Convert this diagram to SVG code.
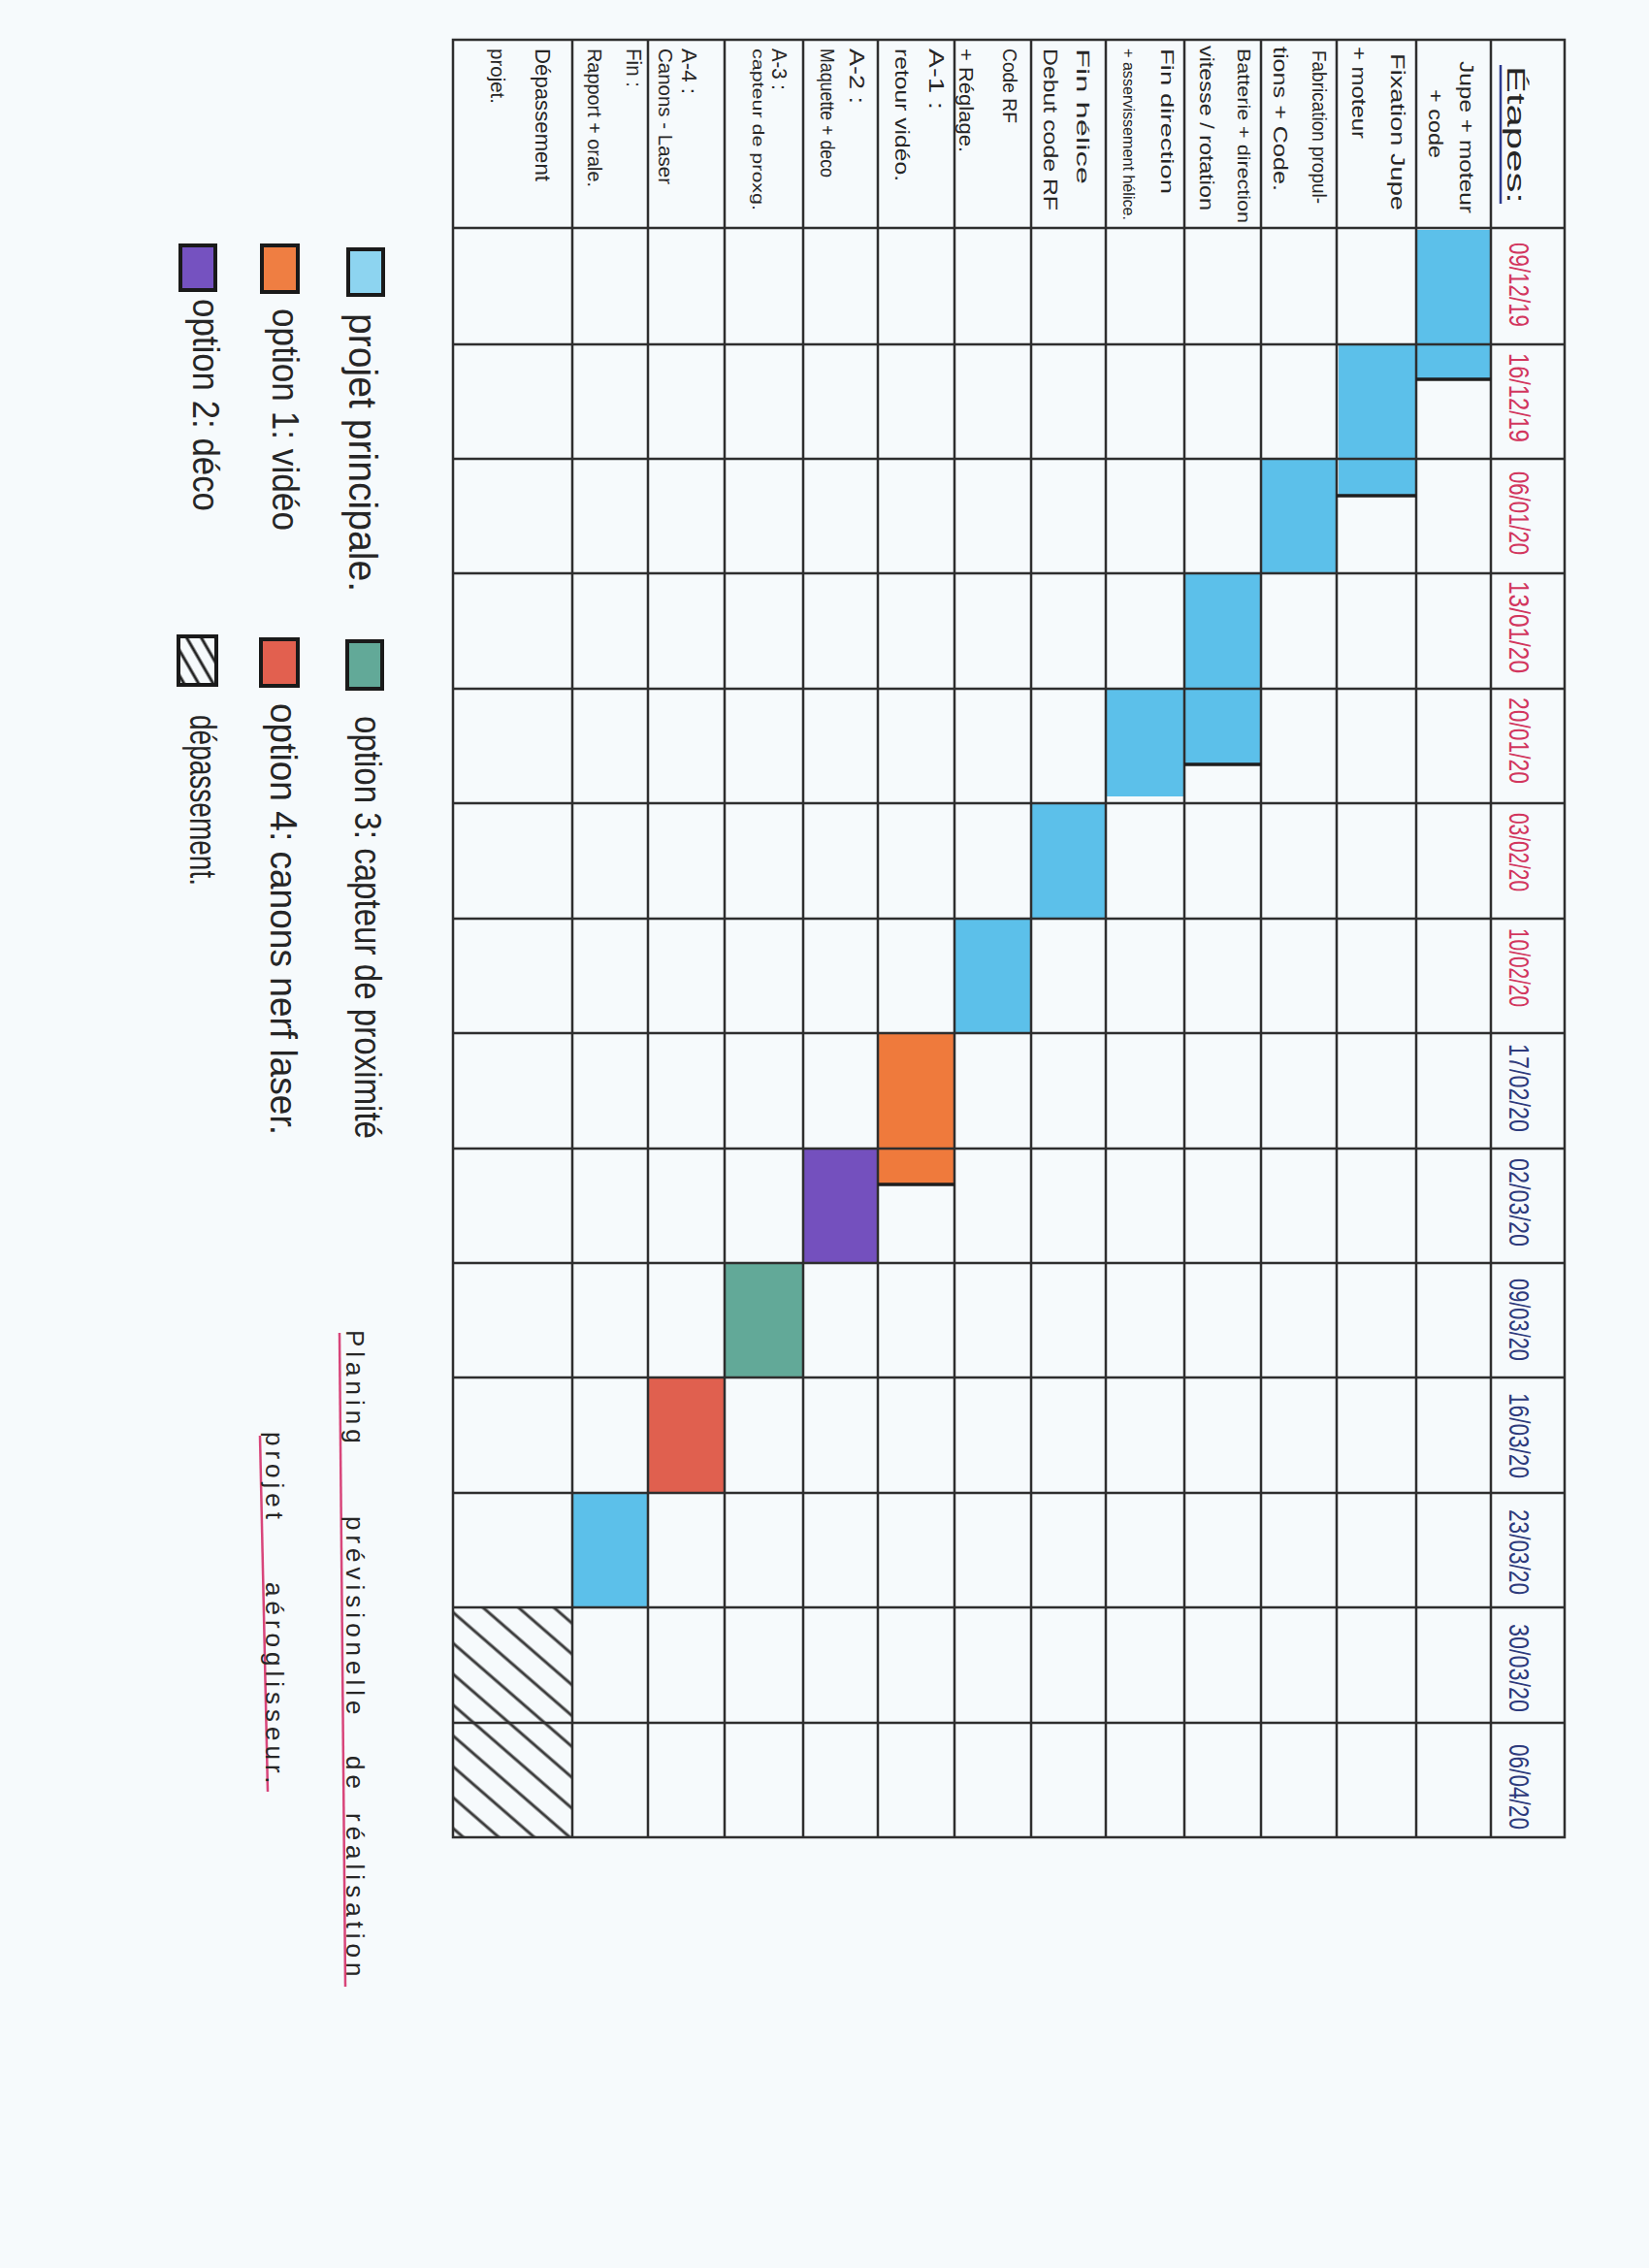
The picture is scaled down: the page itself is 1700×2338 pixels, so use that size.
<svg xmlns="http://www.w3.org/2000/svg" width="1700" height="2338" viewBox="0 0 1700 2338">
<defs>
<style>
.g{stroke:#2e2e2e;stroke-width:2.5;fill:none}
.t{font-family:"Liberation Sans","DejaVu Sans",sans-serif;fill:#262626}
.d1{font-family:"Liberation Sans","DejaVu Sans",sans-serif;fill:#d2365e;font-size:29px}
.d2{font-family:"Liberation Sans","DejaVu Sans",sans-serif;fill:#2d3a7c;font-size:29px}
.edge{stroke:#1e1e1e;stroke-width:3.5}
.lg{stroke:#1a1a1a;stroke-width:4}
.blue{fill:#5cc0ea}
.orange{fill:#ef7a3c}
.purple{fill:#7450be}
.teal{fill:#62a998}
.red{fill:#e0604f}
.ul{stroke:#d8457a;stroke-width:2.5}
</style>
<pattern id="hatch" width="24" height="24" patternUnits="userSpaceOnUse" patternTransform="rotate(41)">
<line x1="0" y1="12" x2="24" y2="12" stroke="#3a3a3a" stroke-width="3"/>
</pattern>
<pattern id="hatch2" width="13" height="13" patternUnits="userSpaceOnUse" patternTransform="rotate(60)">
<line x1="0" y1="6" x2="13" y2="6" stroke="#222" stroke-width="3"/>
</pattern>
</defs>
<rect width="1700" height="2338" fill="#f6fafc"/>

<g id="bars">
<rect class="blue" x="1461" y="237" width="75" height="153"/>
<rect class="blue" x="1380" y="356" width="79" height="154"/>
<rect class="blue" x="1301" y="474" width="76" height="116"/>
<rect class="blue" x="1222" y="592" width="77" height="195"/>
<rect class="blue" x="1141" y="711" width="79" height="110"/>
<rect class="blue" x="1064" y="829" width="75" height="117"/>
<rect class="blue" x="985" y="948" width="77" height="116"/>
<rect class="orange" x="906" y="1066" width="77" height="154"/>
<rect class="purple" x="829" y="1185" width="75" height="116"/>
<rect class="teal" x="748" y="1303" width="79" height="116"/>
<rect class="red" x="669" y="1421" width="77" height="117"/>
<rect class="blue" x="591" y="1540" width="76" height="116"/>
<rect fill="url(#hatch)" x="468" y="1658" width="121" height="235"/>
</g>

<g id="grid">
<rect class="g" x="467" y="41" width="1146" height="1853" stroke-width="3"/>
<line class="g" x1="590" y1="41" x2="590" y2="1894"/>
<line class="g" x1="668" y1="41" x2="668" y2="1894"/>
<line class="g" x1="747" y1="41" x2="747" y2="1894"/>
<line class="g" x1="828" y1="41" x2="828" y2="1894"/>
<line class="g" x1="905" y1="41" x2="905" y2="1894"/>
<line class="g" x1="984" y1="41" x2="984" y2="1894"/>
<line class="g" x1="1063" y1="41" x2="1063" y2="1894"/>
<line class="g" x1="1140" y1="41" x2="1140" y2="1894"/>
<line class="g" x1="1221" y1="41" x2="1221" y2="1894"/>
<line class="g" x1="1300" y1="41" x2="1300" y2="1894"/>
<line class="g" x1="1378" y1="41" x2="1378" y2="1894"/>
<line class="g" x1="1460" y1="41" x2="1460" y2="1894"/>
<line class="g" x1="1537" y1="41" x2="1537" y2="1894"/>
<line class="g" x1="467" y1="235" x2="1613" y2="235"/>
<line class="g" x1="467" y1="355" x2="1613" y2="355"/>
<line class="g" x1="467" y1="473" x2="1613" y2="473"/>
<line class="g" x1="467" y1="591" x2="1613" y2="591"/>
<line class="g" x1="467" y1="710" x2="1613" y2="710"/>
<line class="g" x1="467" y1="828" x2="1613" y2="828"/>
<line class="g" x1="467" y1="947" x2="1613" y2="947"/>
<line class="g" x1="467" y1="1065" x2="1613" y2="1065"/>
<line class="g" x1="467" y1="1184" x2="1613" y2="1184"/>
<line class="g" x1="467" y1="1302" x2="1613" y2="1302"/>
<line class="g" x1="467" y1="1420" x2="1613" y2="1420"/>
<line class="g" x1="467" y1="1539" x2="1613" y2="1539"/>
<line class="g" x1="467" y1="1657" x2="1613" y2="1657"/>
<line class="g" x1="467" y1="1776" x2="1613" y2="1776"/>
<line class="edge" x1="1460" y1="391" x2="1537" y2="391"/>
<line class="edge" x1="1378" y1="511" x2="1460" y2="511"/>
<line class="edge" x1="1221" y1="788" x2="1300" y2="788"/>
<line class="edge" x1="905" y1="1221" x2="984" y2="1221"/>
</g>

<g id="header">
<line x1="1547" y1="67" x2="1547" y2="210" stroke="#2b3a8f" stroke-width="2.5"/>
<text class="t" transform="rotate(90)" x="68" y="-1554" font-size="26" fill="#3b3b55" textLength="142" lengthAdjust="spacingAndGlyphs">Étapes:</text>
</g>

<g id="dates">
<text class="d1" transform="rotate(90)" x="250" y="-1556" textLength="87" lengthAdjust="spacingAndGlyphs">09/12/19</text>
<text class="d1" transform="rotate(90)" x="364" y="-1556" textLength="92" lengthAdjust="spacingAndGlyphs">16/12/19</text>
<text class="d1" transform="rotate(90)" x="486" y="-1556" textLength="86" lengthAdjust="spacingAndGlyphs">06/01/20</text>
<text class="d1" transform="rotate(90)" x="599" y="-1556" textLength="95" lengthAdjust="spacingAndGlyphs">13/01/20</text>
<text class="d1" transform="rotate(90)" x="719" y="-1556" textLength="89" lengthAdjust="spacingAndGlyphs">20/01/20</text>
<text class="d1" transform="rotate(90)" x="838" y="-1556" textLength="81" lengthAdjust="spacingAndGlyphs">03/02/20</text>
<text class="d1" transform="rotate(90)" x="957" y="-1556" textLength="81" lengthAdjust="spacingAndGlyphs">10/02/20</text>
<text class="d2" transform="rotate(90)" x="1076" y="-1556" textLength="91" lengthAdjust="spacingAndGlyphs">17/02/20</text>
<text class="d2" transform="rotate(90)" x="1194" y="-1556" textLength="91" lengthAdjust="spacingAndGlyphs">02/03/20</text>
<text class="d2" transform="rotate(90)" x="1318" y="-1556" textLength="85" lengthAdjust="spacingAndGlyphs">09/03/20</text>
<text class="d2" transform="rotate(90)" x="1436" y="-1556" textLength="88" lengthAdjust="spacingAndGlyphs">16/03/20</text>
<text class="d2" transform="rotate(90)" x="1556" y="-1556" textLength="88" lengthAdjust="spacingAndGlyphs">23/03/20</text>
<text class="d2" transform="rotate(90)" x="1674" y="-1556" textLength="91" lengthAdjust="spacingAndGlyphs">30/03/20</text>
<text class="d2" transform="rotate(90)" x="1798" y="-1556" textLength="88" lengthAdjust="spacingAndGlyphs">06/04/20</text>
</g>

<g id="steps">
<text class="t" transform="rotate(90)" x="63" y="-1505" font-size="21" textLength="157" lengthAdjust="spacingAndGlyphs">Jupe + moteur</text>
<text class="t" transform="rotate(90)" x="92" y="-1473" font-size="21" textLength="71" lengthAdjust="spacingAndGlyphs">+ code</text>
<text class="t" transform="rotate(90)" x="55" y="-1434" font-size="21" textLength="162" lengthAdjust="spacingAndGlyphs">Fixation Jupe</text>
<text class="t" transform="rotate(90)" x="48" y="-1394" font-size="20" textLength="95" lengthAdjust="spacingAndGlyphs">+ moteur</text>
<text class="t" transform="rotate(90)" x="52" y="-1353" font-size="20" textLength="158" lengthAdjust="spacingAndGlyphs">Fabrication propul-</text>
<text class="t" transform="rotate(90)" x="48" y="-1313" font-size="21" textLength="149" lengthAdjust="spacingAndGlyphs">tions + Code.</text>
<text class="t" transform="rotate(90)" x="50" y="-1276" font-size="18" textLength="180" lengthAdjust="spacingAndGlyphs">Batterie + direction</text>
<text class="t" transform="rotate(90)" x="47" y="-1237" font-size="20" textLength="170" lengthAdjust="spacingAndGlyphs">vitesse / rotation</text>
<text class="t" transform="rotate(90)" x="50" y="-1197" font-size="18" textLength="150" lengthAdjust="spacingAndGlyphs">Fin direction</text>
<text class="t" transform="rotate(90)" x="50" y="-1158" font-size="16" textLength="177" lengthAdjust="spacingAndGlyphs">+ asservissement hélice.</text>
<text class="t" transform="rotate(90)" x="50" y="-1110" font-size="19" textLength="140" lengthAdjust="spacingAndGlyphs">Fin hélice</text>
<text class="t" transform="rotate(90)" x="50" y="-1076" font-size="20" textLength="167" lengthAdjust="spacingAndGlyphs">Debut code RF</text>
<text class="t" transform="rotate(90)" x="50" y="-1034" font-size="21" textLength="77" lengthAdjust="spacingAndGlyphs">Code RF</text>
<text class="t" transform="rotate(90)" x="50" y="-989" font-size="21" textLength="107" lengthAdjust="spacingAndGlyphs">+ Réglage.</text>
<text class="t" transform="rotate(90)" x="50" y="-958" font-size="22" textLength="63" lengthAdjust="spacingAndGlyphs">A-1 :</text>
<text class="t" transform="rotate(90)" x="50" y="-923" font-size="20" textLength="137" lengthAdjust="spacingAndGlyphs">retour vidéo.</text>
<text class="t" transform="rotate(90)" x="50" y="-876" font-size="22" textLength="57" lengthAdjust="spacingAndGlyphs">A-2 :</text>
<text class="t" transform="rotate(90)" x="50" y="-846" font-size="20" textLength="133" lengthAdjust="spacingAndGlyphs">Maquette + deco</text>
<text class="t" transform="rotate(90)" x="50" y="-796" font-size="22" textLength="43" lengthAdjust="spacingAndGlyphs">A-3 :</text>
<text class="t" transform="rotate(90)" x="50" y="-776" font-size="16" textLength="167" lengthAdjust="spacingAndGlyphs">capteur de proxg.</text>
<text class="t" transform="rotate(90)" x="50" y="-703" font-size="22" textLength="47" lengthAdjust="spacingAndGlyphs">A-4 :</text>
<text class="t" transform="rotate(90)" x="50" y="-679" font-size="20" textLength="140" lengthAdjust="spacingAndGlyphs">Canons - Laser</text>
<text class="t" transform="rotate(90)" x="50" y="-646" font-size="22" textLength="40" lengthAdjust="spacingAndGlyphs">Fin :</text>
<text class="t" transform="rotate(90)" x="50" y="-606" font-size="20" textLength="143" lengthAdjust="spacingAndGlyphs">Rapport + orale.</text>
<text class="t" transform="rotate(90)" x="50" y="-552" font-size="22" textLength="137" lengthAdjust="spacingAndGlyphs">Dépassement</text>
<text class="t" transform="rotate(90)" x="50" y="-506" font-size="21" textLength="57" lengthAdjust="spacingAndGlyphs">projet.</text>
</g>

<g id="legend">
<rect class="lg" x="359" y="257" width="36" height="47" fill="#8dd4f0"/>
<rect class="lg" x="270" y="253" width="37" height="48" fill="#ef7e42"/>
<rect class="lg" x="186" y="253" width="36" height="46" fill="#7552c0"/>
<rect class="lg" x="358" y="661" width="36" height="49" fill="#62a998"/>
<rect class="lg" x="269" y="659" width="38" height="48" fill="#e2604f"/>
<rect class="lg" x="184" y="656" width="39" height="50" fill="url(#hatch2)"/>
<text class="t" transform="rotate(90)" x="323" y="-360" font-size="40" fill="#111" textLength="287" lengthAdjust="spacingAndGlyphs">projet principale.</text>
<text class="t" transform="rotate(90)" x="318" y="-281" font-size="38" fill="#111" textLength="229" lengthAdjust="spacingAndGlyphs">option 1: vidéo</text>
<text class="t" transform="rotate(90)" x="308" y="-199" font-size="38" fill="#111" textLength="219" lengthAdjust="spacingAndGlyphs">option 2: déco</text>
<text class="t" transform="rotate(90)" x="738" y="-366" font-size="38" fill="#111" textLength="436" lengthAdjust="spacingAndGlyphs">option 3: capteur de proximité</text>
<text class="t" transform="rotate(90)" x="725" y="-279" font-size="38" fill="#111" textLength="445" lengthAdjust="spacingAndGlyphs">option 4: canons nerf laser.</text>
<text class="t" transform="rotate(90)" x="737" y="-196" font-size="38" fill="#111" textLength="176" lengthAdjust="spacingAndGlyphs">dépassement.</text>
</g>

<g id="title">
<line class="ul" x1="350" y1="1374" x2="356" y2="2048"/>
<line class="ul" x1="268" y1="1480" x2="276" y2="1847"/>
<text class="t" transform="rotate(90)" y="-357" font-size="26" fill="#111" letter-spacing="5"><tspan x="1371">Planing</tspan> <tspan x="1563">prévisionelle</tspan> <tspan x="1810">de</tspan> <tspan x="1869">réalisation</tspan></text>
<text class="t" transform="rotate(90)" y="-274" font-size="26" fill="#111" letter-spacing="5"><tspan x="1476">projet</tspan> <tspan x="1631">aéroglisseur.</tspan></text>
</g>
</svg>
